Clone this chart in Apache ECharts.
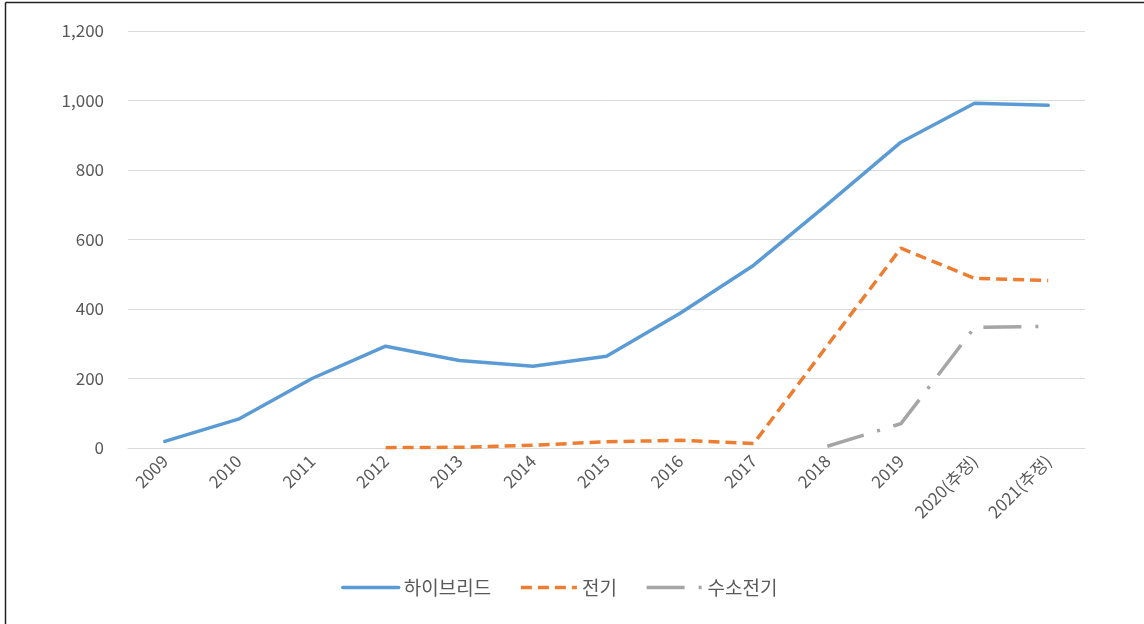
<!DOCTYPE html>
<html>
<head>
<meta charset="utf-8">
<script src="https://cdn.jsdelivr.net/npm/echarts@6/dist/echarts.min.js"></script>
<style>
html,body{margin:0;padding:0;background:#fff;}
#chart{width:1144px;height:624px;}
</style>
</head>
<body>
<div id="chart"></div>
<script>
const categories = ['2009','2010','2011','2012','2013','2014','2015','2016','2017','2018','2019','2020(추정)','2021(추정)'];
const hybrid = [19, 83, 200, 293, 252, 235, 264, 388, 526, 701, 880, 992, 986];
const electric = [null, null, null, 1, 2, 8, 18, 22, 13, 295, 575, 488, 482];
const hydrogen = [null, null, null, null, null, null, null, null, null, 5, 70, 347, 350];
const seriesNames = ['하이브리드', '전기', '수소전기'];
const yTicks = {min: 0, max: 1200, interval: 200};

const font = '"Noto Sans CJK KR", "Noto Sans", sans-serif';
const chart = echarts.init(document.getElementById('chart'), null, {renderer: 'canvas'});
chart.setOption({
  animation: false,
  backgroundColor: '#ffffff',
  textStyle: {fontFamily: font},
  grid: {left: 128, right: 59, top: 31, bottom: 176, containLabel: false},
  legend: {
    bottom: 22,
    left: 336,
    itemWidth: 56,
    itemHeight: 14,
    itemGap: 28,
    itemStyle: {opacity: 0},
    lineStyle: {width: 3.5},
    textStyle: {fontFamily: font, fontSize: 19, color: '#595959', padding: [0, 0, 0, 0]},
    data: seriesNames
  },
  xAxis: {
    type: 'category',
    data: categories,
    boundaryGap: true,
    axisLine: {show: true, lineStyle: {color: '#d9d9d9', width: 1}},
    axisTick: {show: false},
    axisLabel: {rotate: 45, margin: 10, fontSize: 17, color: '#595959', fontFamily: font, interval: 0}
  },
  yAxis: {
    type: 'value',
    min: yTicks.min, max: yTicks.max, interval: yTicks.interval,
    axisLine: {show: false},
    axisTick: {show: false},
    splitLine: {lineStyle: {color: '#d9d9d9', width: 1}},
    axisLabel: {margin: 24, fontSize: 17, color: '#595959', fontFamily: font,
      formatter: v => v.toLocaleString('en-US')}
  },
  series: [
    {name: seriesNames[0], type: 'line', data: hybrid, symbol: 'none',
     lineStyle: {color: '#5B9BD5', width: 3.5, cap: 'round', join: 'round'}, itemStyle: {color: '#5B9BD5'}},
    {name: seriesNames[1], type: 'line', data: electric, symbol: 'none',
     lineStyle: {color: '#ED7D31', width: 3.5, type: [11, 6], cap: 'butt', join: 'round'}, itemStyle: {color: '#ED7D31'}},
    {name: seriesNames[2], type: 'line', data: hydrogen, symbol: 'none',
     lineStyle: {color: '#A5A5A5', width: 3.5, type: [38, 14, 3, 14], cap: 'butt', join: 'round'}, itemStyle: {color: '#A5A5A5'}}
  ],
  graphic: [
    {type: 'line', shape: {x1: 5.5, y1: 2.5, x2: 1144, y2: 2.5}, style: {stroke: '#222', lineWidth: 1.5}},
    {type: 'line', shape: {x1: 5.5, y1: 2.5, x2: 5.5, y2: 624}, style: {stroke: '#222', lineWidth: 1.5}}
  ]
});
</script>
</body>
</html>
